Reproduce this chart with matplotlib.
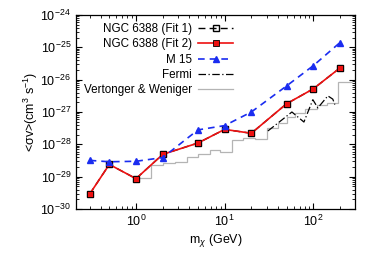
import numpy as np
import matplotlib
matplotlib.use("Agg")
import matplotlib.pyplot as plt

plt.rcParams['font.family'] = ['Liberation Sans', 'DejaVu Sans']
plt.rcParams['mathtext.fontset'] = 'custom'
plt.rcParams['mathtext.rm'] = 'Liberation Sans'
plt.rcParams['mathtext.it'] = 'Liberation Sans:italic'

# Data
mass = [0.3, 0.5, 1, 2, 5, 10, 20, 50, 100, 200]
fit1 = [2.9e-30, 2.4e-29, 8.7e-30, 4.9e-29, 1.1e-28, 2.9e-28, 2.2e-28, 1.8e-27, 5.2e-27, 2.3e-26]
fit2 = [2.9e-30, 2.4e-29, 8.7e-30, 4.9e-29, 1.1e-28, 2.9e-28, 2.2e-28, 1.8e-27, 5.2e-27, 2.3e-26]
m15 = [3.2e-29, 2.9e-29, 3.0e-29, 3.9e-29, 2.8e-28, 3.8e-28, 1.0e-27, 6.4e-27, 2.7e-26, 1.4e-25]

fermi_m = [30.8, 57.4, 78.4, 98.9, 112.6, 146, 166, 175]
fermi_sv = [2.6e-28, 1.0e-27, 4.9e-28, 2.4e-27, 1.34e-27, 3.15e-27, 2.5e-27, 1.7e-27]

vw_edges = [1.0, 1.465, 2.03, 2.75, 3.73, 5.04, 6.83, 8.85, 12.0, 16.2, 22.0, 29.8,
            39.9, 50.4, 62.1, 80.4, 109, 141, 191, 270]
vw_sv = [9.3e-30, 2.3e-29, 2.6e-29, 2.9e-29, 4.2e-29, 5.0e-29, 6.7e-29, 5.9e-29,
         1.37e-28, 1.55e-28, 1.47e-28, 3.1e-28, 4.5e-28, 7.2e-28, 9.6e-28, 1.22e-27,
         1.66e-27, 1.87e-27, 8.7e-27]

fig = plt.figure(figsize=(3.74, 2.62), dpi=100)
ax = fig.add_axes([0.203, 0.202, 0.746, 0.741])

ax.stairs(vw_sv, vw_edges, color='#b4b4b4', lw=0.9, baseline=None,
          label='Vertonger & Weniger', zorder=1)
ax.plot(fermi_m, fermi_sv, color='black', lw=0.9, ls=(0, (6, 2, 1, 2)),
        label='Fermi', zorder=2)
ax.plot(mass, fit1, color='black', lw=1.0, ls=(0, (5, 3)), marker='s', ms=4.5,
        mfc='none', mec='black', label='NGC 6388 (Fit 1)', zorder=3)
ax.plot(mass, fit2, color='#ee1111', lw=1.2, marker='s', ms=4.5, mfc='#ee1111',
        mec='black', mew=0.6, label='NGC 6388 (Fit 2)', zorder=4)
ax.plot(mass, m15, color='#1a2cf0', lw=1.2, ls=(0, (4, 3)), marker='^', ms=5,
        mfc='#1a2cf0', mec='#1a2cf0', label='M 15', zorder=5)

ax.set_xscale('log')
ax.set_yscale('log')
ax.set_xlim(0.21, 295)
ax.set_ylim(1e-30, 1e-24)
ax.set_yticks([1e-30, 1e-29, 1e-28, 1e-27, 1e-26, 1e-25, 1e-24])
ax.set_xticks([1, 10, 100])
ax.tick_params(which='both', direction='in', top=True, right=True, labelsize=9)
ax.tick_params(which='major', length=4)
ax.tick_params(which='minor', length=2)
for s in ax.spines.values():
    s.set_linewidth(0.9)

ax.set_xlabel(r'm$_\chi$ (GeV)', fontsize=9, labelpad=2)
ax.set_ylabel(r'<σv>(cm$^3$ s$^{-1}$)', fontsize=9, labelpad=0)

h, l = ax.get_legend_handles_labels()
order = [2, 3, 4, 1, 0]
ax.legend([h[i] for i in order], [l[i] for i in order], loc='upper left',
          bbox_to_anchor=(0.0, 1.0), frameon=False, markerfirst=False,
          fontsize=8.4, handlelength=3.0, labelspacing=0.28, borderaxespad=0.3,
          handletextpad=0.5)

fig.savefig('out.png', dpi=100)
